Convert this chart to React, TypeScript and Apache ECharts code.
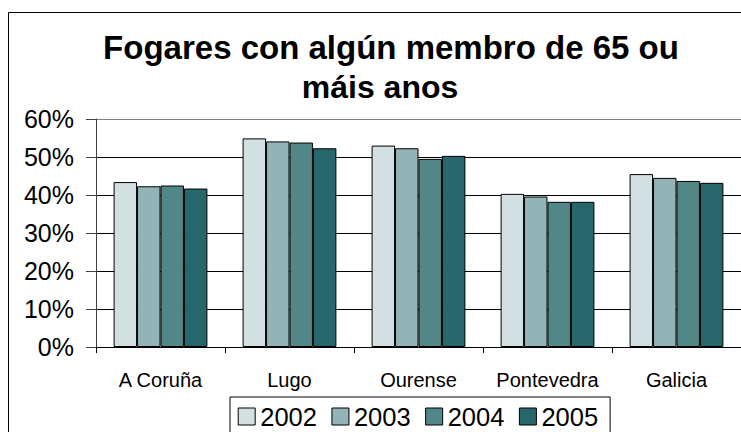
import React, { useEffect, useRef } from "react";
import * as echarts from "echarts";

const categories = ["A Coruña", "Lugo", "Ourense", "Pontevedra", "Galicia"];
const years = ["2002", "2003", "2004", "2005"];
const v2002 = [43.4, 54.9, 53.0, 40.3, 45.5];
const v2003 = [42.3, 54.1, 52.3, 39.6, 44.5];
const v2004 = [42.5, 53.8, 49.5, 38.2, 43.7];
const v2005 = [41.7, 52.3, 50.3, 38.2, 43.2];
const seriesValues = [v2002, v2003, v2004, v2005];
const colors = ["#D3E0E1", "#93B4B6", "#528788", "#27676B"];
const titleLines = ["Fogares con algún membro de 65 ou", "máis anos"];
const yMin = 0;
const yMax = 60;
const yInterval = 10;

const FONT = "'Liberation Sans', Arial, sans-serif";

export default function App() {
  const ref = useRef<HTMLDivElement>(null);
  useEffect(() => {
    if (!ref.current) return;
    const chart = echarts.init(ref.current, undefined, { renderer: "svg" });
    const splitColors = [] as string[];
    for (let v = yMin; v <= yMax; v += yInterval) splitColors.push(v === yMax ? "#808080" : "#000000");
    chart.setOption({
      animation: false,
      backgroundColor: "#ffffff",
      textStyle: { fontFamily: FONT },
      graphic: [
        {
          type: "rect",
          silent: true,
          z: -10,
          shape: { x: 8.5, y: 12.5, width: 900, height: 600 },
          style: { fill: "none", stroke: "#000000", lineWidth: 1 },
        },
        {
          type: "text",
          x: 391,
          y: 47,
          style: {
            text: titleLines[0],
            align: "center",
            verticalAlign: "middle",
            font: `bold 33px ${FONT}`,
            fill: "#000000",
          },
        },
        {
          type: "text",
          x: 380,
          y: 87,
          style: {
            text: titleLines[1],
            align: "center",
            verticalAlign: "middle",
            font: `bold 32px ${FONT}`,
            fill: "#000000",
          },
        },
      ],
      legend: {
        data: years,
        left: 230,
        top: 397,
        orient: "horizontal",
        icon: "rect",
        itemWidth: 17,
        itemHeight: 17,
        itemGap: 14.5,
        padding: [6.5, 12, 10, 7.7],
        borderColor: "#000000",
        borderWidth: 1,
        itemStyle: { borderColor: "#000000", borderWidth: 1 },
        textStyle: { fontSize: 25.5, color: "#000000", fontFamily: FONT },
      },
      grid: { left: 96, top: 119, width: 646.5, height: 228, containLabel: false },
      xAxis: {
        type: "category",
        data: categories,
        axisLine: { lineStyle: { color: "#000000", width: 1 } },
        axisTick: { show: true, length: 6, lineStyle: { color: "#000000" } },
        axisLabel: { fontSize: 20, color: "#000000", margin: 23, fontFamily: FONT, interval: 0 },
        splitLine: { show: false },
      },
      yAxis: {
        type: "value",
        min: yMin,
        max: yMax,
        interval: yInterval,
        axisLine: { show: true, lineStyle: { color: "#404040", width: 1 } },
        axisTick: { show: true, length: 10, lineStyle: { color: "#404040" } },
        axisLabel: { fontSize: 25, color: "#000000", margin: 22, fontFamily: FONT, formatter: "{value}%" },
        splitLine: { show: true, lineStyle: { color: splitColors, width: 1 } },
      },
      series: years.map((y, i) => ({
        name: y,
        type: "bar",
        data: seriesValues[i],
        barGap: "0%",
        barCategoryGap: "27.3%",
        itemStyle: { color: colors[i], borderColor: "#000000", borderWidth: 1 },
      })),
    });
    return () => chart.dispose();
  }, []);
  return (
    <div
      ref={ref}
      style={{ position: "absolute", left: 0, top: 0, width: 741, height: 432, overflow: "hidden" }}
    />
  );
}
